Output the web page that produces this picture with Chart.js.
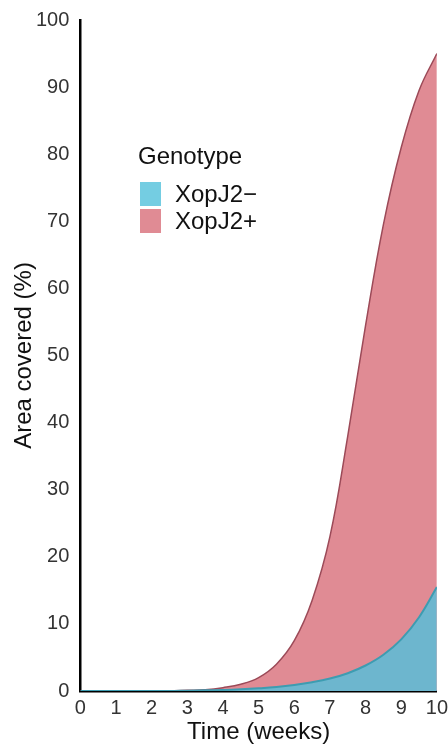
<!DOCTYPE html>
<html>
<head>
<meta charset="utf-8">
<script src="https://cdn.jsdelivr.net/npm/chart.js@4"></script>
<style>
  html, body { margin: 0; padding: 0; background: #fff; }
  canvas { display: block; }
</style>
</head>
<body>
<canvas id="chart" width="448" height="744"></canvas>
<script>
const weeks = [0, 0.5, 1, 1.5, 2, 2.5, 3, 3.5, 4, 4.5, 5, 5.5, 6, 6.5, 7, 7.5, 8, 8.5, 9, 9.5, 10];
const xopJ2Minus = [0, 0, 0, 0, 0, 0, 0.05, 0.1, 0.15, 0.25, 0.4, 0.6, 0.9, 1.3, 1.85, 2.65, 3.8, 5.4, 7.7, 11, 15.5];
const xopJ2Plus = [0, 0, 0, 0, 0, 0, 0.1, 0.2, 0.5, 1.0, 2.0, 4.0, 7.5, 13.5, 23, 38, 54.5, 69.5, 81, 89.5, 95];
const seriesLabels = ['XopJ2\u2212', 'XopJ2+'];
const legendTitle = 'Genotype';

const FONT = '"Liberation Sans", Arial, sans-serif';

function points(values) {
    return weeks.map((w, i) => ({ x: w, y: values[i] }));
}

// legend drawn inside the plot, like the reference
const insideLegend = {
    id: 'insideLegend',
    afterDraw(chart) {
        const ctx = chart.ctx;
        ctx.save();
        ctx.font = '24px ' + FONT;
        ctx.fillStyle = '#111';
        ctx.textBaseline = 'middle';
        ctx.textAlign = 'left';
        ctx.fillText(legendTitle, 138, 157);
        const swatches = ['#74cde2', '#e08b94'];
        chart.data.datasets.forEach((ds, i) => {
            const y = 182 + i * 27;
            ctx.fillStyle = swatches[i];
            ctx.fillRect(140, y, 21, 24);
            ctx.fillStyle = '#111';
            ctx.fillText(ds.label, 175, y + 13);
        });
        ctx.restore();
    }
};

new Chart(document.getElementById('chart'), {
    type: 'line',
    data: {
        datasets: [
            {
                label: seriesLabels[0],
                data: points(xopJ2Minus),
                borderColor: '#3d9cb1',
                backgroundColor: '#6db6ce',
                borderWidth: 2,
                fill: 'origin',
                pointRadius: 0,
                tension: 0.4
            },
            {
                label: seriesLabels[1],
                data: points(xopJ2Plus),
                borderColor: '#9c4a58',
                backgroundColor: '#e08b94',
                borderWidth: 1.5,
                fill: 'origin',
                pointRadius: 0,
                tension: 0.4
            }
        ]
    },
    options: {
        responsive: false,
        animation: false,
        layout: { padding: { top: 20, right: 0, bottom: 0, left: 0 } },
        plugins: {
            legend: { display: false },
            tooltip: { enabled: false }
        },
        scales: {
            x: {
                type: 'linear',
                min: 0,
                max: 10,
                grid: { display: false, drawTicks: true, tickLength: 5, tickColor: '#000', tickWidth: 1.5 },
                border: { color: '#000', width: 2.5 },
                ticks: { stepSize: 1, color: '#333', font: { family: FONT, size: 20 }, padding: 0, maxRotation: 0 },
                title: { display: true, text: 'Time (weeks)', color: '#111', font: { family: FONT, size: 24, lineHeight: 1 }, padding: { top: 0, bottom: 0 } }
            },
            y: {
                min: 0,
                max: 100,
                grid: { display: false, drawTicks: true, tickLength: 5, tickColor: '#000', tickWidth: 1.5 },
                border: { color: '#000', width: 2.5 },
                ticks: { stepSize: 10, color: '#333', font: { family: FONT, size: 20 }, padding: 6 },
                title: { display: true, text: 'Area covered (%)', color: '#111', font: { family: FONT, size: 24, lineHeight: 1 }, padding: { top: 12, bottom: -6 } }
            }
        }
    },
    plugins: [insideLegend]
});
</script>
</body>
</html>
